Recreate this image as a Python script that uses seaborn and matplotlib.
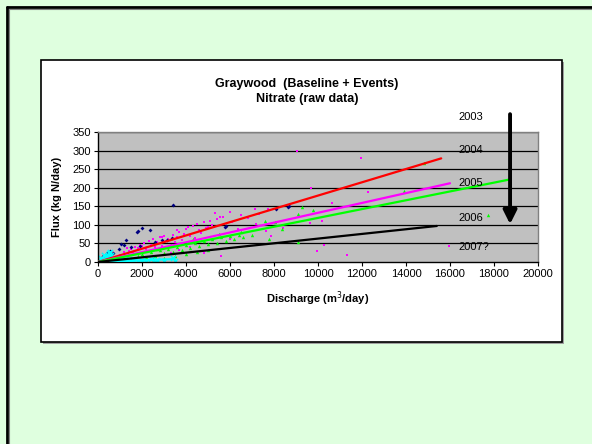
import matplotlib
matplotlib.use("Agg")
import matplotlib.pyplot as plt
import seaborn as sns
import pandas as pd
from matplotlib.patches import Rectangle
from matplotlib.lines import Line2D

# ---------------- data ----------------
navy_x = [242, 424, 545, 700, 970, 1060, 1166, 1273, 1500, 1757, 1803, 2014, 2364,
          3121, 3348, 3423, 5758, 5818, 8106, 8636, 8697, 2600, 2900, 1900]
navy_y = [16, 23, 30, 25, 34, 48, 45, 59, 40, 80, 83, 92, 85,
          59, 64, 154, 95, 98, 143, 149, 151, 55, 58, 42]

mag_x = [1000, 1200, 1400, 1500, 1600, 1700, 1800, 1900, 2000, 2100, 2200, 2300, 2400,
         2500, 2600, 2700, 2800, 2900, 3000, 3100, 3200, 3300, 3400, 3500, 3600, 3700,
         3800, 3900, 4000, 4100, 4200, 4300, 4400, 4500, 4600, 4700, 4800, 4900, 5000,
         5100, 5200, 5318, 5400, 5545, 5700, 5800, 6000, 6100, 6377, 6500, 6800, 7136,
         7168, 7332, 7636, 7714, 7850, 8424, 9030, 9636, 9680, 9970, 10170, 10270,
         10620, 11330, 11955, 12260, 15940, 4200, 3700, 4800, 5600, 2500, 3300, 6000,
         1300, 3600, 2900]
mag_y = [20, 26, 30, 36, 28, 41, 37, 46, 43, 51, 34, 56, 47,
         62, 40, 53, 66, 44, 71, 57, 63, 47, 73, 54, 68, 82,
         60, 76, 88, 93, 69, 96, 64, 101, 85, 77, 107, 91, 95,
         111, 99, 133, 116, 122, 121, 94, 135, 109, 89, 126, 119, 142,
         101, 129, 84, 142, 71, 91, 300, 105, 198, 29, 111, 47,
         158, 19, 281, 188, 42, 40, 31, 24, 16, 15, 25, 61,
         38, 86, 66]

grn_x = [1200, 1500, 1800, 2000, 2200, 2400, 2600, 2700, 2800, 3000, 3200, 3300, 3400,
         3600, 3800, 4000, 4200, 4300, 4400, 4600, 4800, 5000, 5200, 5400, 5600, 5800,
         6000, 6200, 6400, 6500, 6600, 7000, 7590, 7786, 8045, 8350, 9077, 9105, 9259,
         9786, 13923, 14832, 17741, 2000, 2500, 3000, 3500, 4000, 4500, 5000, 5500]
grn_y = [8, 11, 16, 21, 13, 26, 17, 36, 31, 23, 36, 46, 27,
         41, 33, 46, 37, 63, 51, 43, 56, 49, 61, 51, 66, 57,
         71, 63, 74, 81, 67, 73, 111, 61, 109, 88, 129, 54, 149,
         140, 192, 267, 126, 5, 9, 10, 16, 21, 26, 31, 76]

cyan_x = [50, 100, 150, 200, 250, 300, 350, 400, 450, 500, 550, 600, 650, 700, 800, 900,
          1000, 1100, 1200, 1400, 1500, 1600, 1800, 2000, 2200, 2400, 2600, 2700, 3000,
          3400, 3500]
cyan_y = [1, 2, 10, 5, 20, 8, 12, 15, 18, 25, 28, 20, 8, 10, 5, 3,
          6, 12, 4, 8, 2, 5, 3, 6, 4, 7, 1, 5, 3,
          10, 2]

fit_years = ["2003", "2004", "2005", "2006", "2007?"]
fit_colors = ["#00FFFF", "#FF0000", "#FF00FF", "#00FF00", "#000000"]
fit_x_end = [3500, 15600, 16000, 18700, 15400]
fit_y_end = [8, 279, 212, 222, 97]

year_labels = ["2003", "2004", "2005", "2006", "2007?"]
year_label_y = [390, 301, 213, 118, 40]

x_ticks = list(range(0, 20001, 2000))
y_ticks = list(range(0, 351, 50))

# ---------------- figure ----------------
W, H = 592, 444
sns.set_style("white")
plt.rcParams["font.family"] = ["Liberation Sans", "DejaVu Sans"]
plt.rcParams["text.color"] = "black"
plt.rcParams["xtick.color"] = "black"
plt.rcParams["ytick.color"] = "black"

fig = plt.figure(figsize=(W / 100, H / 100), dpi=100)
fig.patch.set_facecolor("#DFFFDF")

def fx(px):
    return px / W

def fy(py):
    return 1 - py / H

# slide border (left / top) and white chart box
for art in [
    Line2D([fx(7), fx(7)], [fy(7), 0], color="black", lw=2),
    Line2D([fx(7), 1], [fy(7), fy(7)], color="black", lw=2),
    Line2D([fx(9), fx(9)], [fy(9), 0], color="#808080", lw=0.8),
    Line2D([fx(9), 1], [fy(9), fy(9)], color="#808080", lw=0.8),
    Rectangle((fx(43), fy(344)), fx(562 - 41), (342 - 60) / H,
              facecolor="#A0A0A0", edgecolor="none"),
    Rectangle((fx(41), fy(342)), fx(562 - 41), (342 - 60) / H,
              facecolor="white", edgecolor="black", lw=1.2),
]:
    art.set_zorder(-5)
    fig.add_artist(art)

ax = fig.add_axes([fx(98), fy(262), fx(538 - 98), (262 - 132) / H])
ax.set_zorder(1)
ax.set_facecolor("#C0C0C0")

for yv in y_ticks[1:]:
    ax.axhline(yv, color="black", lw=0.9, zorder=0.5)

df_n = pd.DataFrame({"x": navy_x, "y": navy_y})
df_m = pd.DataFrame({"x": mag_x, "y": mag_y})
df_g = pd.DataFrame({"x": grn_x, "y": grn_y})
df_c = pd.DataFrame({"x": cyan_x, "y": cyan_y})

sns.scatterplot(data=df_m, x="x", y="y", ax=ax, color="#FF00FF", marker="s", s=4,
                linewidth=0, zorder=2)
sns.scatterplot(data=df_g, x="x", y="y", ax=ax, color="#00FF00", marker="^", s=6,
                linewidth=0, zorder=2)
sns.scatterplot(data=df_n, x="x", y="y", ax=ax, color="#000080", marker="D", s=4,
                linewidth=0, zorder=2)
sns.scatterplot(data=df_c, x="x", y="y", ax=ax, color="#00FFFF", marker="x", s=14,
                linewidth=1, zorder=2)

for yr, col, xe, ye in zip(fit_years, fit_colors, fit_x_end, fit_y_end):
    dfl = pd.DataFrame({"x": [0, xe], "y": [0, ye]})
    sns.lineplot(data=dfl, x="x", y="y", ax=ax, color=col, lw=1.6, zorder=3)

ax.set_xlim(0, 20000)
ax.set_ylim(0, 350)
ax.set_xticks(x_ticks)
ax.set_yticks(y_ticks)
ax.tick_params(axis="both", direction="out", length=3, width=0.8, color="black",
               labelsize=8, pad=2, labelcolor="black")
ax.xaxis.set_ticks_position("bottom")
ax.yaxis.set_ticks_position("left")
for side in ["left", "bottom"]:
    ax.spines[side].set_color("black")
    ax.spines[side].set_linewidth(1)
for side in ["top", "right"]:
    ax.spines[side].set_color("#808080")
    ax.spines[side].set_linewidth(1)
ax.set_xlabel("")
ax.set_ylabel("")

for lab, yv in zip(year_labels, year_label_y):
    ax.text(16400, yv, lab, fontsize=8, ha="left", va="center", clip_on=False,
            zorder=5, color="black")

ax.annotate("", xy=(18730, 102), xytext=(18730, 398), xycoords="data",
            annotation_clip=False,
            arrowprops=dict(arrowstyle="-|>,head_width=0.4,head_length=0.8",
                            color="black", lw=2.8, shrinkA=0, shrinkB=0))

fig.text(fx(307), fy(84), "Graywood  (Baseline + Events)", ha="center", va="center",
         fontsize=9, fontweight="bold", color="black")
fig.text(fx(307), fy(99), "Nitrate (raw data)", ha="center", va="center",
         fontsize=9, fontweight="bold", color="black")
fig.text(fx(318), fy(299), "Discharge (m$^3$/day)", ha="center", va="center",
         fontsize=8, fontweight="bold", color="black")
fig.text(fx(57), fy(197), "Flux (kg N/day)", ha="center", va="center",
         fontsize=8, fontweight="bold", rotation=90, color="black")

fig.savefig("out.png", dpi=100, facecolor=fig.get_facecolor())
